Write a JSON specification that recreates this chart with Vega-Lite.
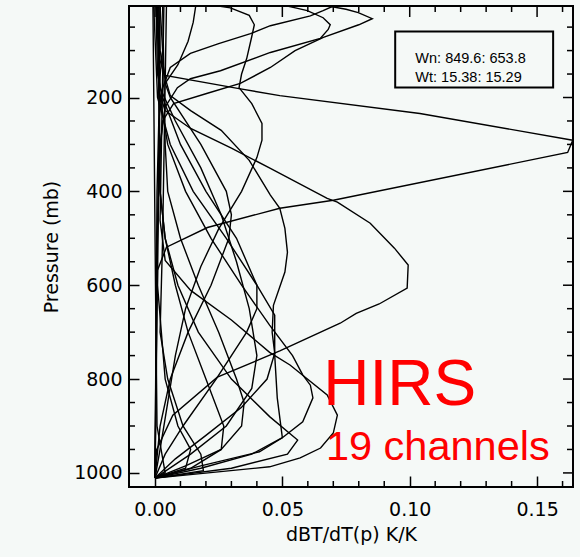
{
  "$schema": "https://vega.github.io/schema/vega-lite/v6.json",
  "width": 444,
  "height": 481,
  "autosize": "none",
  "padding": {"left": 129, "top": 6, "right": 7, "bottom": 70},
  "background": "#f5f9f7",
  "config": {"view": {"stroke": "black", "strokeWidth": 2}},
  "datasets": {
    "wf": [
      {"c":1,"p":5,"v":0.070},{"c":1,"p":15,"v":0.066},{"c":1,"p":26,"v":0.061},{"c":1,"p":47,"v":0.0453},{"c":1,"p":64,"v":0.0375},{"c":1,"p":85,"v":0.025},{"c":1,"p":106,"v":0.0139},{"c":1,"p":136,"v":0.006},{"c":1,"p":180,"v":0.003},{"c":1,"p":250,"v":0.0015},{"c":1,"p":400,"v":0.0008},{"c":1,"p":700,"v":0.0004},{"c":1,"p":1011,"v":0},
      {"c":2,"p":5,"v":0.052},{"c":2,"p":10,"v":0.056},{"c":2,"p":15,"v":0.0598},{"c":2,"p":30,"v":0.066},{"c":2,"p":45,"v":0.0688},{"c":2,"p":55,"v":0.068},{"c":2,"p":74,"v":0.0649},{"c":2,"p":104,"v":0.0453},{"c":2,"p":143,"v":0.0257},{"c":2,"p":160,"v":0.0139},{"c":2,"p":179,"v":0.0088},{"c":2,"p":220,"v":0.004},{"c":2,"p":300,"v":0.002},{"c":2,"p":500,"v":0.001},{"c":2,"p":1011,"v":0},
      {"c":3,"p":5,"v":0.068},{"c":3,"p":12,"v":0.075},{"c":3,"p":19,"v":0.0798},{"c":3,"p":32,"v":0.0853},{"c":3,"p":45,"v":0.080},{"c":3,"p":72,"v":0.0661},{"c":3,"p":100,"v":0.055},{"c":3,"p":136,"v":0.0453},{"c":3,"p":170,"v":0.0335},{"c":3,"p":191,"v":0.0206},{"c":3,"p":213,"v":0.0073},{"c":3,"p":250,"v":0.003},{"c":3,"p":350,"v":0.0015},{"c":3,"p":600,"v":0.0006},{"c":3,"p":1011,"v":0},
      {"c":4,"p":5,"v":0.025},{"c":4,"p":9,"v":0.0296},{"c":4,"p":25,"v":0.037},{"c":4,"p":45,"v":0.039},{"c":4,"p":70,"v":0.038},{"c":4,"p":117,"v":0.036},{"c":4,"p":150,"v":0.034},{"c":4,"p":179,"v":0.033},{"c":4,"p":213,"v":0.038},{"c":4,"p":255,"v":0.042},{"c":4,"p":291,"v":0.042},{"c":4,"p":328,"v":0.040},{"c":4,"p":400,"v":0.034},{"c":4,"p":480,"v":0.025},{"c":4,"p":560,"v":0.018},{"c":4,"p":650,"v":0.012},{"c":4,"p":750,"v":0.008},{"c":4,"p":850,"v":0.005},{"c":4,"p":950,"v":0.002},{"c":4,"p":1011,"v":0},
      {"c":5,"p":5,"v":0.0015},{"c":5,"p":100,"v":0.002},{"c":5,"p":153,"v":0.004},{"c":5,"p":181,"v":0.033},{"c":5,"p":196,"v":0.049},{"c":5,"p":234,"v":0.104},{"c":5,"p":291,"v":0.164},{"c":5,"p":317,"v":0.162},{"c":5,"p":419,"v":0.070},{"c":5,"p":436,"v":0.049},{"c":5,"p":477,"v":0.0206},{"c":5,"p":519,"v":0.0045},{"c":5,"p":568,"v":0.001},{"c":5,"p":800,"v":0.0005},{"c":5,"p":1011,"v":0},
      {"c":6,"p":5,"v":0.002},{"c":6,"p":100,"v":0.003},{"c":6,"p":185,"v":0.0014},{"c":6,"p":228,"v":0.004},{"c":6,"p":266,"v":0.014},{"c":6,"p":308,"v":0.030},{"c":6,"p":351,"v":0.0453},{"c":6,"p":415,"v":0.0676},{"c":6,"p":423,"v":0.0716},{"c":6,"p":468,"v":0.0845},{"c":6,"p":521,"v":0.094},{"c":6,"p":557,"v":0.0994},{"c":6,"p":606,"v":0.099},{"c":6,"p":640,"v":0.088},{"c":6,"p":660,"v":0.079},{"c":6,"p":681,"v":0.0727},{"c":6,"p":740,"v":0.049},{"c":6,"p":796,"v":0.0245},{"c":6,"p":877,"v":0.007},{"c":6,"p":951,"v":0.0006},{"c":6,"p":1011,"v":0},
      {"c":7,"p":5,"v":0.0005},{"c":7,"p":121,"v":0.002},{"c":7,"p":196,"v":0.006},{"c":7,"p":228,"v":0.014},{"c":7,"p":270,"v":0.026},{"c":7,"p":334,"v":0.037},{"c":7,"p":408,"v":0.0453},{"c":7,"p":436,"v":0.049},{"c":7,"p":479,"v":0.051},{"c":7,"p":530,"v":0.052},{"c":7,"p":572,"v":0.051},{"c":7,"p":643,"v":0.0465},{"c":7,"p":700,"v":0.046},{"c":7,"p":745,"v":0.047},{"c":7,"p":800,"v":0.044},{"c":7,"p":860,"v":0.034},{"c":7,"p":920,"v":0.020},{"c":7,"p":970,"v":0.008},{"c":7,"p":1011,"v":0},
      {"c":8,"p":5,"v":0.001},{"c":8,"p":200,"v":0.002},{"c":8,"p":300,"v":0.005},{"c":8,"p":400,"v":0.012},{"c":8,"p":500,"v":0.022},{"c":8,"p":600,"v":0.034},{"c":8,"p":685,"v":0.045},{"c":8,"p":750,"v":0.054},{"c":8,"p":791,"v":0.058},{"c":8,"p":813,"v":0.061},{"c":8,"p":840,"v":0.062},{"c":8,"p":891,"v":0.058},{"c":8,"p":925,"v":0.050},{"c":8,"p":955,"v":0.041},{"c":8,"p":985,"v":0.018},{"c":8,"p":1011,"v":0},
      {"c":9,"p":5,"v":0.0035},{"c":9,"p":462,"v":0.002},{"c":9,"p":547,"v":0.004},{"c":9,"p":611,"v":0.014},{"c":9,"p":674,"v":0.030},{"c":9,"p":743,"v":0.045},{"c":9,"p":770,"v":0.053},{"c":9,"p":834,"v":0.0676},{"c":9,"p":877,"v":0.0716},{"c":9,"p":915,"v":0.070},{"c":9,"p":947,"v":0.065},{"c":9,"p":968,"v":0.057},{"c":9,"p":987,"v":0.045},{"c":9,"p":1011,"v":0},
      {"c":10,"p":5,"v":-0.0005},{"c":10,"p":200,"v":0.001},{"c":10,"p":300,"v":0.006},{"c":10,"p":400,"v":0.015},{"c":10,"p":500,"v":0.028},{"c":10,"p":600,"v":0.040},{"c":10,"p":664,"v":0.047},{"c":10,"p":749,"v":0.047},{"c":10,"p":840,"v":0.048},{"c":10,"p":925,"v":0.050},{"c":10,"p":960,"v":0.038},{"c":10,"p":990,"v":0.018},{"c":10,"p":1011,"v":0},
      {"c":11,"p":5,"v":0.003},{"c":11,"p":300,"v":0.004},{"c":11,"p":400,"v":0.005},{"c":11,"p":500,"v":0.010},{"c":11,"p":600,"v":0.017},{"c":11,"p":700,"v":0.025},{"c":11,"p":800,"v":0.032},{"c":11,"p":850,"v":0.035},{"c":11,"p":900,"v":0.034},{"c":11,"p":950,"v":0.026},{"c":11,"p":985,"v":0.012},{"c":11,"p":1011,"v":0},
      {"c":12,"p":5,"v":0.0015},{"c":12,"p":400,"v":0.002},{"c":12,"p":500,"v":0.004},{"c":12,"p":600,"v":0.008},{"c":12,"p":700,"v":0.013},{"c":12,"p":800,"v":0.020},{"c":12,"p":900,"v":0.027},{"c":12,"p":950,"v":0.026},{"c":12,"p":990,"v":0.014},{"c":12,"p":1011,"v":0},
      {"c":13,"p":5,"v":0.016},{"c":13,"p":40,"v":0.015},{"c":13,"p":80,"v":0.013},{"c":13,"p":130,"v":0.009},{"c":13,"p":170,"v":0.004},{"c":13,"p":200,"v":0.006},{"c":13,"p":300,"v":0.018},{"c":13,"p":400,"v":0.028},{"c":13,"p":450,"v":0.030},{"c":13,"p":500,"v":0.029},{"c":13,"p":600,"v":0.022},{"c":13,"p":700,"v":0.013},{"c":13,"p":800,"v":0.006},{"c":13,"p":900,"v":0.002},{"c":13,"p":1011,"v":0},
      {"c":14,"p":5,"v":0.0004},{"c":14,"p":150,"v":0.001},{"c":14,"p":200,"v":0.003},{"c":14,"p":300,"v":0.010},{"c":14,"p":400,"v":0.020},{"c":14,"p":500,"v":0.032},{"c":14,"p":600,"v":0.040},{"c":14,"p":650,"v":0.040},{"c":14,"p":700,"v":0.036},{"c":14,"p":800,"v":0.024},{"c":14,"p":900,"v":0.011},{"c":14,"p":960,"v":0.004},{"c":14,"p":1011,"v":0},
      {"c":15,"p":5,"v":-0.0008},{"c":15,"p":300,"v":-0.0003},{"c":15,"p":600,"v":0.0002},{"c":15,"p":900,"v":0.0008},{"c":15,"p":1000,"v":0.004},{"c":15,"p":1011,"v":0},
      {"c":16,"p":5,"v":0.0045},{"c":16,"p":500,"v":0.003},{"c":16,"p":700,"v":0.002},{"c":16,"p":800,"v":0.005},{"c":16,"p":900,"v":0.011},{"c":16,"p":960,"v":0.018},{"c":16,"p":995,"v":0.019},{"c":16,"p":1011,"v":0},
      {"c":17,"p":5,"v":0.002},{"c":17,"p":600,"v":0.001},{"c":17,"p":800,"v":0.004},{"c":17,"p":900,"v":0.009},{"c":17,"p":950,"v":0.014},{"c":17,"p":990,"v":0.012},{"c":17,"p":1011,"v":0},
      {"c":18,"p":5,"v":0.001},{"c":18,"p":400,"v":0.002},{"c":18,"p":500,"v":0.004},{"c":18,"p":600,"v":0.009},{"c":18,"p":700,"v":0.017},{"c":18,"p":800,"v":0.030},{"c":18,"p":880,"v":0.045},{"c":18,"p":930,"v":0.056},{"c":18,"p":960,"v":0.052},{"c":18,"p":990,"v":0.030},{"c":18,"p":1011,"v":0},
      {"c":19,"p":5,"v":0.0006},{"c":19,"p":180,"v":0.002},{"c":19,"p":250,"v":0.008},{"c":19,"p":350,"v":0.018},{"c":19,"p":450,"v":0.026},{"c":19,"p":550,"v":0.032},{"c":19,"p":650,"v":0.037},{"c":19,"p":750,"v":0.040},{"c":19,"p":820,"v":0.038},{"c":19,"p":900,"v":0.028},{"c":19,"p":960,"v":0.014},{"c":19,"p":1011,"v":0}
    ]
  },
  "layer": [
    {
      "data": {"name": "wf"},
      "mark": {"type": "line", "color": "black", "strokeWidth": 1.4, "clip": true},
      "encoding": {
        "x": {
          "field": "v", "type": "quantitative",
          "scale": {"domain": [-0.0102, 0.1641], "nice": false, "zero": false},
          "axis": {
            "orient": "bottom",
            "offset": -11,
            "values": [0, 0.05, 0.1, 0.15],
            "format": ".2f",
            "ticks": true, "tickSize": 11, "tickColor": "black", "tickWidth": 1.5,
            "domain": false, "grid": false,
            "labelFont": "DejaVu Sans", "labelFontSize": 19, "labelColor": "black",
            "labelPadding": 13, "labelFlush": false, "labelOverlap": false,
            "title": "dBT/dT(p)  K/K",
            "titleFont": "DejaVu Sans", "titleFontSize": 19, "titleFontWeight": "normal", "titleColor": "black",
            "titlePadding": 6
          }
        },
        "y": {
          "field": "p", "type": "quantitative",
          "scale": {"domain": [5, 1030], "reverse": true, "nice": false, "zero": false},
          "axis": {
            "orient": "left",
            "offset": -10,
            "values": [200, 400, 600, 800, 1000],
            "format": "d",
            "ticks": true, "tickSize": 10, "tickColor": "black", "tickWidth": 1.5,
            "domain": false, "grid": false,
            "labelFont": "DejaVu Sans", "labelFontSize": 19, "labelColor": "black",
            "labelPadding": 7, "labelFlush": false, "labelOverlap": false,
            "title": "Pressure (mb)",
            "titleFont": "DejaVu Sans", "titleFontSize": 19, "titleFontWeight": "normal", "titleColor": "black",
            "titlePadding": 12
          }
        },
        "detail": {"field": "c", "type": "nominal"},
        "order": {"field": "p", "type": "quantitative"}
      }
    },
    {
      "data": {"values": [{"t":0},{"t":0.05},{"t":0.1},{"t":0.15}]},
      "mark": {"type": "rule", "color": "black", "strokeWidth": 1.5},
      "encoding": {"x": {"field": "t", "type": "quantitative"}, "y": {"datum": 5, "type": "quantitative"}, "y2": {"datum": 28.4}}
    },
    {
      "data": {"values": [{"t":0.01},{"t":0.02},{"t":0.03},{"t":0.04},{"t":0.06},{"t":0.07},{"t":0.08},{"t":0.09},{"t":0.11},{"t":0.12},{"t":0.13},{"t":0.14},{"t":0.16}]},
      "mark": {"type": "rule", "color": "black", "strokeWidth": 1.5},
      "encoding": {"x": {"field": "t", "type": "quantitative"}, "y": {"datum": 1030, "type": "quantitative"}, "y2": {"datum": 1017.2}}
    },
    {
      "data": {"values": [{"t":0.01},{"t":0.02},{"t":0.03},{"t":0.04},{"t":0.06},{"t":0.07},{"t":0.08},{"t":0.09},{"t":0.11},{"t":0.12},{"t":0.13},{"t":0.14},{"t":0.16}]},
      "mark": {"type": "rule", "color": "black", "strokeWidth": 1.5},
      "encoding": {"x": {"field": "t", "type": "quantitative"}, "y": {"datum": 5, "type": "quantitative"}, "y2": {"datum": 17.8}}
    },
    {
      "data": {"values": [{"q":200},{"q":400},{"q":600},{"q":800},{"q":1000}]},
      "mark": {"type": "rule", "color": "black", "strokeWidth": 1.5},
      "encoding": {"y": {"field": "q", "type": "quantitative"}, "x": {"datum": 0.1641, "type": "quantitative"}, "x2": {"datum": 0.16017}}
    },
    {
      "data": {"values": [{"q":50},{"q":100},{"q":150},{"q":250},{"q":300},{"q":350},{"q":450},{"q":500},{"q":550},{"q":650},{"q":700},{"q":750},{"q":850},{"q":900},{"q":950}]},
      "mark": {"type": "rule", "color": "black", "strokeWidth": 1.5},
      "encoding": {"y": {"field": "q", "type": "quantitative"}, "x": {"datum": -0.0102, "type": "quantitative"}, "x2": {"datum": -0.00784}}
    },
    {
      "data": {"values": [{"q":50},{"q":100},{"q":150},{"q":250},{"q":300},{"q":350},{"q":450},{"q":500},{"q":550},{"q":650},{"q":700},{"q":750},{"q":850},{"q":900},{"q":950}]},
      "mark": {"type": "rule", "color": "black", "strokeWidth": 1.5},
      "encoding": {"y": {"field": "q", "type": "quantitative"}, "x": {"datum": 0.1641, "type": "quantitative"}, "x2": {"datum": 0.16174}}
    },
    {
      "data": {"values": [{}]},
      "mark": {"type": "rect", "fill": "#f5f9f7", "stroke": "black", "strokeWidth": 2},
      "encoding": {
        "x": {"datum": 0.0943, "type": "quantitative"},
        "x2": {"datum": 0.1563},
        "y": {"datum": 59.6, "type": "quantitative"},
        "y2": {"datum": 178.7}
      }
    },
    {
      "data": {"values": [{}]},
      "mark": {"type": "text", "align": "left", "baseline": "alphabetic", "font": "Liberation Sans", "fontSize": 14.5, "color": "black"},
      "encoding": {
        "x": {"datum": 0.1022, "type": "quantitative"},
        "y": {"datum": 125.5, "type": "quantitative"},
        "text": {"value": "Wn: 849.6: 653.8"}
      }
    },
    {
      "data": {"values": [{}]},
      "mark": {"type": "text", "align": "left", "baseline": "alphabetic", "font": "Liberation Sans", "fontSize": 14.5, "color": "black"},
      "encoding": {
        "x": {"datum": 0.1022, "type": "quantitative"},
        "y": {"datum": 166, "type": "quantitative"},
        "text": {"value": "Wt: 15.38: 15.29"}
      }
    },
    {
      "data": {"values": [{}]},
      "mark": {"type": "text", "align": "left", "baseline": "alphabetic", "font": "Liberation Sans", "fontSize": 64, "color": "#ff0000"},
      "encoding": {
        "x": {"datum": 0.0661, "type": "quantitative"},
        "y": {"datum": 855, "type": "quantitative"},
        "text": {"value": "HIRS"}
      }
    },
    {
      "data": {"values": [{}]},
      "mark": {"type": "text", "align": "left", "baseline": "alphabetic", "font": "Liberation Sans", "fontSize": 41.5, "color": "#ff0000"},
      "encoding": {
        "x": {"datum": 0.0671, "type": "quantitative"},
        "y": {"datum": 972, "type": "quantitative"},
        "text": {"value": "19 channels"}
      }
    }
  ]
}
